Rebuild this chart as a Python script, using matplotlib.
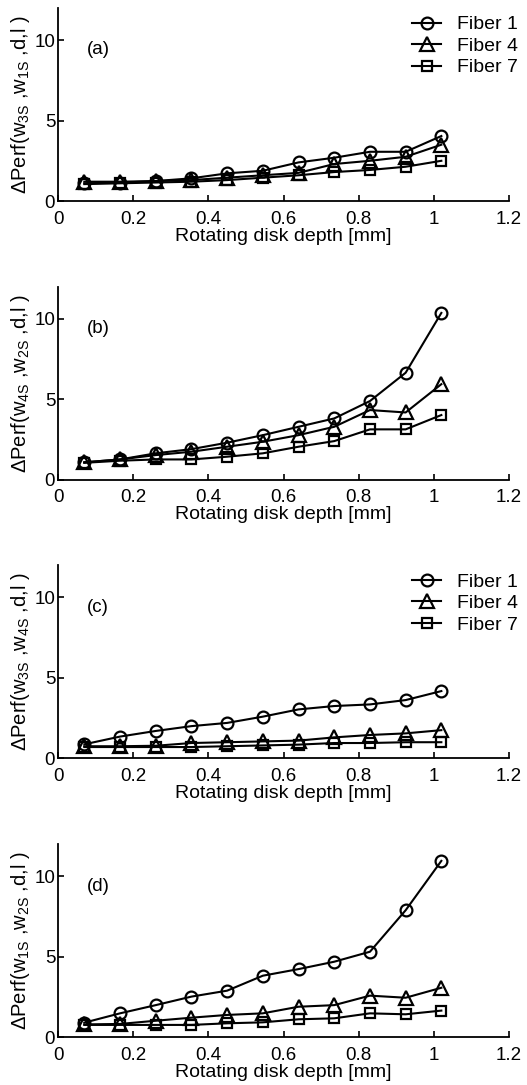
import matplotlib
matplotlib.use("Agg")
import matplotlib.pyplot as plt

plt.rcParams['font.family'] = ['Liberation Sans', 'DejaVu Sans']
plt.rcParams['mathtext.default'] = 'regular'
plt.rcParams['mathtext.fontset'] = 'custom'
plt.rcParams['mathtext.rm'] = 'Liberation Sans'

depth = [0.07, 0.165, 0.26, 0.355, 0.45, 0.545, 0.64, 0.735, 0.83, 0.925, 1.02]

a_fiber1 = [1.10, 1.14, 1.24, 1.41, 1.72, 1.88, 2.40, 2.69, 3.06, 3.06, 4.04]
a_fiber4 = [1.20, 1.20, 1.24, 1.30, 1.45, 1.60, 1.75, 2.30, 2.50, 2.75, 3.50]
a_fiber7 = [1.05, 1.10, 1.15, 1.20, 1.30, 1.45, 1.60, 1.80, 1.93, 2.13, 2.50]

b_fiber1 = [1.08, 1.26, 1.64, 1.90, 2.30, 2.77, 3.29, 3.81, 4.89, 6.65, 10.37]
b_fiber4 = [1.08, 1.26, 1.53, 1.74, 2.05, 2.36, 2.77, 3.29, 4.33, 4.18, 5.94]
b_fiber7 = [1.05, 1.18, 1.26, 1.26, 1.43, 1.64, 2.05, 2.40, 3.13, 3.13, 4.02]

c_fiber1 = [0.87, 1.35, 1.70, 2.00, 2.20, 2.59, 3.04, 3.25, 3.35, 3.62, 4.18]
c_fiber4 = [0.75, 0.75, 0.78, 0.95, 1.00, 1.05, 1.10, 1.30, 1.45, 1.55, 1.75]
c_fiber7 = [0.70, 0.70, 0.70, 0.70, 0.75, 0.80, 0.85, 0.95, 0.95, 1.00, 1.00]

d_fiber1 = [0.91, 1.49, 2.00, 2.53, 2.90, 3.83, 4.24, 4.70, 5.32, 7.90, 10.97]
d_fiber4 = [0.80, 0.83, 1.03, 1.22, 1.39, 1.49, 1.90, 2.00, 2.59, 2.46, 3.08]
d_fiber7 = [0.77, 0.77, 0.77, 0.77, 0.87, 0.93, 1.12, 1.18, 1.49, 1.43, 1.66]

series_labels = ['Fiber 1', 'Fiber 4', 'Fiber 7']
panel_tags = ['(a)', '(b)', '(c)', '(d)']
ylabels = ['ΔPerf(w$_{3S}$ ,w$_{1S}$ ,d,l )',
           'ΔPerf(w$_{4S}$ ,w$_{2S}$ ,d,l )',
           'ΔPerf(w$_{3S}$ ,w$_{4S}$ ,d,l )',
           'ΔPerf(w$_{1S}$ ,w$_{2S}$ ,d,l )']
xticks = [0, 0.2, 0.4, 0.6, 0.8, 1.0, 1.2]
xticklabels = ['0', '0.2', '0.4', '0.6', '0.8', '1', '1.2']
yticks = [0, 5, 10]
xlabel = 'Rotating disk depth [mm]'

panels = [(a_fiber1, a_fiber4, a_fiber7),
          (b_fiber1, b_fiber4, b_fiber7),
          (c_fiber1, c_fiber4, c_fiber7),
          (d_fiber1, d_fiber4, d_fiber7)]
show_legend = [True, False, True, False]

W, H = 527, 1085
fig = plt.figure(figsize=(W / 100, H / 100), dpi=100)

left = 58 / W
width = (509 - 58) / W
height = 193 / H
bottoms_px = [201, 479.7, 758.3, 1037.3]

markers = ['o', '^', 's']
msizes = [8.5, 9.5, 6.5]
fs = 14

for i, (series, tag, ylab, leg) in enumerate(zip(panels, panel_tags, ylabels, show_legend)):
    ax = fig.add_axes([left, 1 - bottoms_px[i] / H, width, height])
    for vals, m, ms, lab in zip(series, markers, msizes, series_labels):
        ax.plot(depth, vals, color='black', lw=1.5, marker=m, ms=ms,
                mfc='none', mec='black', mew=1.6, label=lab)
    ax.set_xlim(0, 1.2)
    ax.set_ylim(0, 12)
    ax.set_xticks(xticks)
    ax.set_xticklabels(xticklabels)
    ax.set_yticks(yticks)
    ax.spines['top'].set_visible(False)
    ax.spines['right'].set_visible(False)
    for s in ('left', 'bottom'):
        ax.spines[s].set_linewidth(1.3)
    ax.tick_params(direction='in', length=4, width=1.2, labelsize=13.5)
    ax.tick_params(axis='x', pad=7)
    ax.tick_params(axis='y', pad=2)
    ax.set_xlabel(xlabel, fontsize=fs, labelpad=0)
    ax.set_ylabel(ylab, fontsize=14.5)
    ax.yaxis.set_label_coords(-0.058, 0.5)
    ax.text(0.077, 9.4, tag, fontsize=13.5, ha='left', va='center')
    if leg:
        ax.legend(loc='upper right', bbox_to_anchor=(1.02, 0.96), frameon=False,
                  fontsize=fs, numpoints=1, handlelength=1.5, handletextpad=0.8,
                  labelspacing=0.2, borderaxespad=0, borderpad=0)

fig.savefig('out.png', dpi=100)
